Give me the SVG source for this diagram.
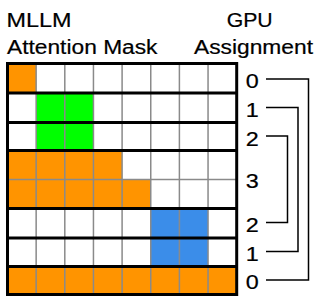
<svg xmlns="http://www.w3.org/2000/svg" width="317" height="301" viewBox="0 0 317 301">
  <style>
    .title { font-family: "Liberation Sans", Arial, Helvetica, sans-serif; font-size: 19.6px; fill: #000; stroke: #000; stroke-width: 0.2; }
    .digit { font-family: "Liberation Sans", Arial, Helvetica, sans-serif; font-size: 19.4px; fill: #000; stroke: #000; stroke-width: 0.2; }
    .o { fill: #FF9400; }
    .g { fill: #00FF00; }
    .b { fill: #3B8DE9; }
    .thin { stroke: #8a8a8a; stroke-width: 1.5; fill: none; }
    .thick { stroke: #000; stroke-width: 3; fill: none; }
    .conn { stroke: #000; stroke-width: 1.5; fill: none; }
  </style>
  <rect width="317" height="301" fill="#fff"/>

  <g id="titles">
    <text class="title" x="6.6" y="27" textLength="65" lengthAdjust="spacingAndGlyphs">MLLM</text>
    <text class="title" x="7" y="53.6" textLength="150.5" lengthAdjust="spacingAndGlyphs">Attention Mask</text>
    <text class="title" x="226.7" y="27" textLength="46" lengthAdjust="spacingAndGlyphs">GPU</text>
    <text class="title" x="194" y="53.6" textLength="119" lengthAdjust="spacingAndGlyphs">Assignment</text>
  </g>

  <g id="mask">
    <g id="row1"><rect class="o" x="7.5" y="63.5" width="28.65" height="29.5"/></g>
    <g id="row2"><rect class="g" x="36.15" y="93" width="57.3" height="29.5"/></g>
    <g id="row3"><rect class="g" x="36.15" y="122.5" width="57.3" height="28"/></g>
    <g id="row4"><rect class="o" x="7.5" y="150.5" width="114.6" height="29"/></g>
    <g id="row5"><rect class="o" x="7.5" y="179.5" width="143.25" height="29"/></g>
    <g id="row6"><rect class="b" x="150.75" y="208.5" width="57.3" height="29.5"/></g>
    <g id="row7"><rect class="b" x="150.75" y="238" width="57.3" height="28.5"/></g>
    <g id="row8"><rect class="o" x="7.5" y="266.5" width="229.2" height="28"/></g>

    <g id="grid-thin">
      <path class="thin" d="M36.15,63.5V294.5M64.8,63.5V294.5M93.45,63.5V294.5M122.1,63.5V294.5M150.75,63.5V294.5M179.4,63.5V294.5M208.05,63.5V294.5M7.5,179.5H236.7"/>
    </g>
    <g id="grid-thick">
      <path class="thick" d="M7.5,93H236.7M7.5,122.5H236.7M7.5,150.5H236.7M7.5,208.5H236.7M7.5,238H236.7M7.5,266.5H236.7"/>
      <rect class="thick" x="7.5" y="63.5" width="229.2" height="231"/>
    </g>
  </g>

  <g id="labels">
    <g id="label-r1"><text class="digit" x="245.8" y="87.8" textLength="13" lengthAdjust="spacingAndGlyphs">0</text></g>
    <g id="label-r2"><text class="digit" x="245.8" y="117.3" textLength="13" lengthAdjust="spacingAndGlyphs">1</text></g>
    <g id="label-r3"><text class="digit" x="245.8" y="146" textLength="13" lengthAdjust="spacingAndGlyphs">2</text></g>
    <g id="label-r45"><text class="digit" x="245.8" y="187.9" textLength="13" lengthAdjust="spacingAndGlyphs">3</text></g>
    <g id="label-r6"><text class="digit" x="245.8" y="232" textLength="13" lengthAdjust="spacingAndGlyphs">2</text></g>
    <g id="label-r7"><text class="digit" x="245.8" y="260.6" textLength="13" lengthAdjust="spacingAndGlyphs">1</text></g>
    <g id="label-r8"><text class="digit" x="245.8" y="289.4" textLength="13" lengthAdjust="spacingAndGlyphs">0</text></g>
  </g>

  <g id="connectors">
    <path class="conn" d="M266,79H308.5V280H266"/>
    <path class="conn" d="M266,107.5H298V251.5H266"/>
    <path class="conn" d="M266,136H287.5V222.5H266"/>
  </g>
</svg>
